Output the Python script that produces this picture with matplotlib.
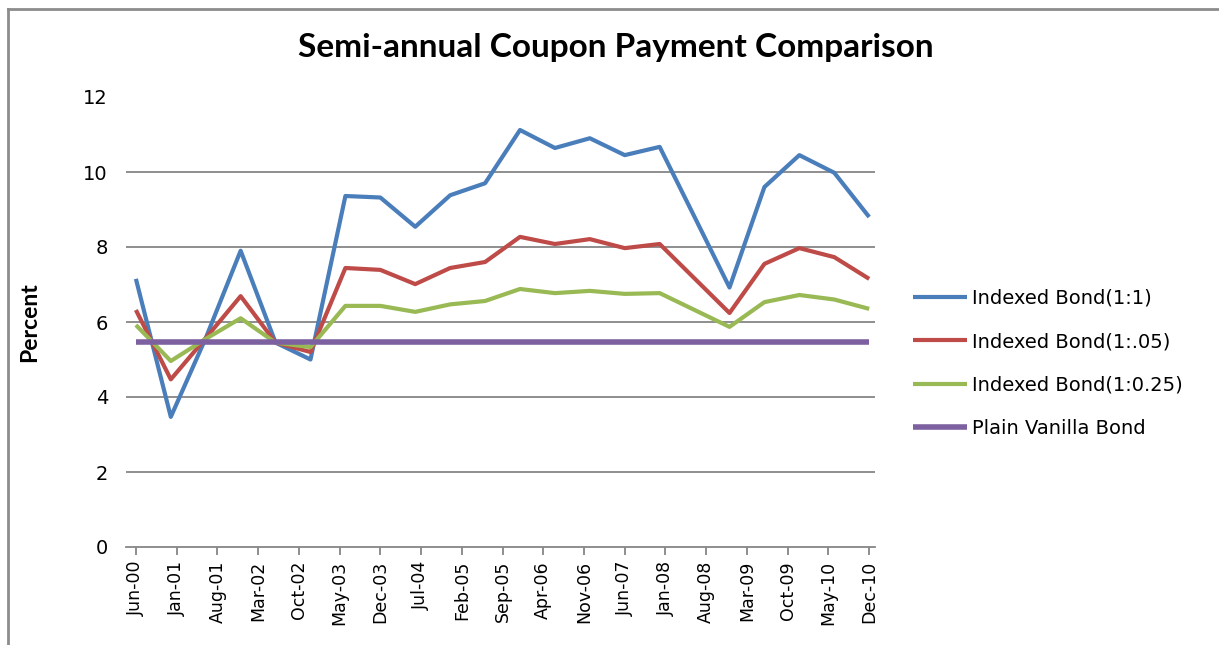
import matplotlib
matplotlib.use("Agg")
import matplotlib.pyplot as plt
import pandas as pd
from matplotlib.lines import Line2D

# ---- data ----
point_dates = ["Jun-00", "Dec-00", "Jun-01", "Dec-01", "Jun-02", "Dec-02", "Jun-03", "Dec-03",
               "Jun-04", "Dec-04", "Jun-05", "Dec-05", "Jun-06", "Dec-06", "Jun-07", "Dec-07",
               "Jun-08", "Dec-08", "Jun-09", "Dec-09", "Jun-10", "Dec-10"]
tick_labels = ["Jun-00", "Jan-01", "Aug-01", "Mar-02", "Oct-02", "May-03", "Dec-03", "Jul-04",
               "Feb-05", "Sep-05", "Apr-06", "Nov-06", "Jun-07", "Jan-08", "Aug-08", "Mar-09",
               "Oct-09", "May-10", "Dec-10"]
indexed_1_1 = [7.15, 3.47, 5.57, 7.90, 5.45, 5.00, 9.36, 9.32, 8.54, 9.38, 9.70, 11.12,
               10.64, 10.90, 10.45, 10.67, 8.80, 6.92, 9.60, 10.45, 9.98, 8.80]
indexed_1_05 = [6.32, 4.47, 5.57, 6.69, 5.45, 5.20, 7.44, 7.39, 7.01, 7.44, 7.60, 8.27,
                8.08, 8.21, 7.97, 8.08, 7.16, 6.24, 7.55, 7.97, 7.73, 7.15]
indexed_1_025 = [5.92, 4.96, 5.55, 6.10, 5.45, 5.33, 6.43, 6.43, 6.27, 6.47, 6.56, 6.88,
                 6.77, 6.83, 6.75, 6.77, 6.32, 5.87, 6.53, 6.72, 6.60, 6.35]
plain_vanilla = [5.47, 5.47, 5.47, 5.47, 5.47, 5.47, 5.47, 5.47, 5.47, 5.47, 5.47, 5.47,
                 5.47, 5.47, 5.47, 5.47, 5.47, 5.47, 5.47, 5.47, 5.47, 5.47]
series_names = ["Indexed Bond(1:1)", "Indexed Bond(1:.05)", "Indexed Bond(1:0.25)", "Plain Vanilla Bond"]
y_ticks = [0, 2, 4, 6, 8, 10, 12]

base_date = pd.to_datetime(point_dates[0], format="%b-%y")

def month_index(labels):
    d = pd.to_datetime(labels, format="%b-%y")
    return [(x.year - base_date.year) * 12 + (x.month - base_date.month) for x in d]

x_pts = month_index(point_dates)
x_ticks = month_index(tick_labels)

# ---- figure ----
LATO = "Lato"
DV = "DejaVu Sans"
fig = plt.figure(figsize=(12.19, 6.45), dpi=100)
fig.patch.set_facecolor("white")

# outer chart border (left and top visible)
fig.add_artist(Line2D([8 / 1219, 8 / 1219], [0, 1 - 9 / 645], transform=fig.transFigure,
                      color="#8c8c8c", lw=2))
fig.add_artist(Line2D([8 / 1219, 1], [1 - 9 / 645, 1 - 9 / 645], transform=fig.transFigure,
                      color="#8c8c8c", lw=2))

ax = fig.add_axes([126 / 1219, 1 - 547 / 645, (875 - 126) / 1219, (547 - 97) / 645])
colors = ["#4A7EBB", "#BE4B48", "#98B954", "#7D60A0"]
widths = [3.0, 3.0, 3.0, 4.0]
for vals, c, lw, name in zip([indexed_1_1, indexed_1_05, indexed_1_025, plain_vanilla],
                             colors, widths, series_names):
    ax.plot(x_pts, vals, color=c, lw=lw, label=name, solid_capstyle="butt", zorder=3)

ax.set_ylim(0, 12)
ax.set_xlim(-1.7, 127.0)
ax.set_yticks(y_ticks)
for y in y_ticks[1:-1]:
    ax.axhline(y, color="#868686", lw=1.3, zorder=1)
ax.set_xticks(x_ticks)
ax.set_xticklabels(tick_labels, rotation=90, fontsize=12.5, family=DV)
ax.set_yticklabels([str(v) for v in y_ticks], fontsize=14, family=DV)
for s in ["top", "right", "left"]:
    ax.spines[s].set_visible(False)
ax.spines["bottom"].set_color("#868686")
ax.spines["bottom"].set_linewidth(1.3)
ax.tick_params(axis="x", direction="out", length=6, width=1.3, color="#868686", pad=4)
ax.tick_params(axis="y", length=0, pad=13)

ax.set_ylabel("Percent", fontsize=16.5, fontweight="bold", family=LATO)
ax.yaxis.set_label_coords((40 - 126) / 749, 0.5)

fig.text(616 / 1219, 1 - 48 / 645, "Semi-annual Coupon Payment Comparison", ha="center",
         va="center", fontsize=24, fontweight="bold", family=LATO)

leg = ax.legend(loc="upper left", bbox_to_anchor=(913 / 1219, 1 - 289 / 645),
                bbox_transform=fig.transFigure, frameon=False, borderpad=0, borderaxespad=0,
                handlelength=2.8, handletextpad=0.25, labelspacing=1.25,
                prop={"family": DV, "size": 14})

fig.savefig("out.png", dpi=100, facecolor="white")
